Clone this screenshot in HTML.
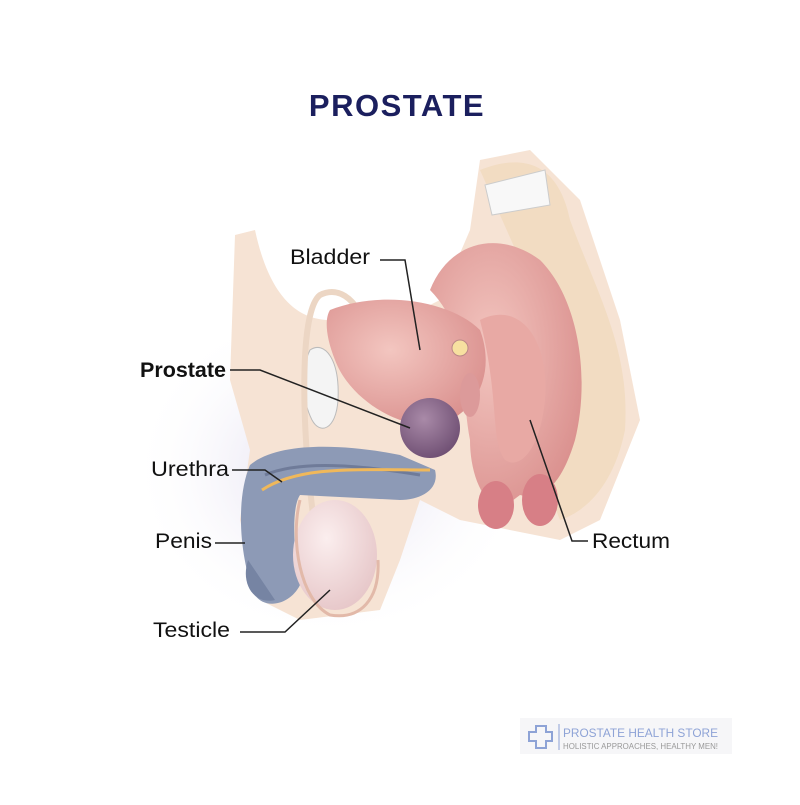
<!DOCTYPE html>
<html><head><meta charset="utf-8"><style>
body{margin:0;width:800px;height:800px;background:#fff;overflow:hidden;font-family:"Liberation Sans",sans-serif}
</style></head><body>
<svg width="800" height="800" viewBox="0 0 800 800" xmlns="http://www.w3.org/2000/svg">
<defs>
<radialGradient id="glow" cx="50%" cy="50%" r="50%">
<stop offset="0" stop-color="#d8d2ea" stop-opacity="0.9"/>
<stop offset="1" stop-color="#ffffff" stop-opacity="0"/>
</radialGradient>
<radialGradient id="pink" cx="40%" cy="40%" r="70%">
<stop offset="0" stop-color="#f3c6c0"/><stop offset="1" stop-color="#d98e8c"/>
</radialGradient>
<radialGradient id="pros" cx="40%" cy="35%" r="70%">
<stop offset="0" stop-color="#a98aa8"/><stop offset="1" stop-color="#6e4e72"/>
</radialGradient>
<radialGradient id="test" cx="40%" cy="35%" r="70%">
<stop offset="0" stop-color="#fbeeee"/><stop offset="1" stop-color="#e6c6c8"/>
</radialGradient>
</defs>
<text x="397" y="116" text-anchor="middle" font-family="Liberation Sans" font-weight="bold" font-size="31" letter-spacing="1.5" fill="#1b1f5e">PROSTATE</text>
<ellipse cx="330" cy="470" rx="200" ry="170" fill="url(#glow)"/>
<path d="M235 235 L255 230 C270 300 300 320 330 320 L380 330 L440 300 L470 230 L480 160 L530 150 L580 200 L620 320 L640 420 L600 520 L560 540 L460 520 L420 500 L400 560 L380 610 L300 620 L260 600 L240 520 L250 450 L230 380 Z" fill="#f6e3d4"/>
<path d="M480 170 C530 150 560 170 570 220 C600 300 630 350 625 430 C615 480 590 510 560 520 L540 470 C560 420 560 330 520 260 Z" fill="#f2dcc2"/>
<path d="M485 185 L545 170 L550 205 L492 215 Z" fill="#f8f8f8" stroke="#ccc"/>
<path d="M430 290 C450 240 500 230 540 260 C580 300 590 380 575 440 C560 490 540 500 520 495 L500 510 C480 500 470 470 470 440 C460 390 470 330 430 290 Z" fill="url(#pink)"/>
<path d="M480 320 C520 300 550 340 545 400 C540 450 520 470 505 460 C490 440 500 400 480 320 Z" fill="#e8a9a4"/>
<ellipse cx="496" cy="505" rx="18" ry="24" fill="#d77f86"/>
<ellipse cx="540" cy="500" rx="18" ry="26" fill="#d77f86"/>
<path d="M310 350 C325 340 340 360 338 400 C336 430 320 435 312 420 C302 400 300 370 310 350 Z" fill="#f4f4f4" stroke="#bbb"/>
<path d="M315 530 C300 420 300 310 320 295 C340 285 360 300 370 340" fill="none" stroke="#ecd6c4" stroke-width="6"/>
<path d="M330 310 C380 290 450 300 480 330 C495 370 480 410 440 425 C400 430 350 400 335 360 C325 335 325 318 330 310 Z" fill="url(#pink)"/>
<circle cx="460" cy="348" r="8" fill="#f7e0a0" stroke="#b88"/>
<ellipse cx="470" cy="395" rx="10" ry="22" fill="#dc9a9a"/>
<circle cx="430" cy="428" r="30" fill="url(#pros)"/>
<path d="M250 465 C280 440 350 445 400 455 L435 470 C440 490 420 500 400 500 L300 495 C290 510 295 560 300 585 C290 605 265 610 255 595 C240 560 235 500 250 465 Z" fill="#8d9ab6"/>
<path d="M265 475 C300 460 360 465 420 475" fill="none" stroke="#6f7b99" stroke-width="3"/>
<path d="M262 490 C300 465 360 470 430 470" fill="none" stroke="#f0b85a" stroke-width="3"/>
<path d="M248 560 C240 585 255 605 275 600" fill="#7684a3"/>
<ellipse cx="335" cy="555" rx="42" ry="55" fill="url(#test)"/>
<path d="M300 500 C290 540 300 600 330 615 C360 620 380 600 378 560" fill="none" stroke="#e2b9a9" stroke-width="3"/>
<g font-family="Liberation Sans" font-size="21" fill="#111">
<text x="290" y="264" textLength="80" lengthAdjust="spacingAndGlyphs">Bladder</text>
<text x="140" y="377" font-weight="bold" textLength="86" lengthAdjust="spacingAndGlyphs">Prostate</text>
<text x="151" y="476" textLength="78" lengthAdjust="spacingAndGlyphs">Urethra</text>
<text x="155" y="548" textLength="57" lengthAdjust="spacingAndGlyphs">Penis</text>
<text x="153" y="637" textLength="77" lengthAdjust="spacingAndGlyphs">Testicle</text>
<text x="592" y="548" textLength="78" lengthAdjust="spacingAndGlyphs">Rectum</text>
</g>
<g fill="none" stroke="#222" stroke-width="1.5">
<path d="M380 260 L405 260 L420 350"/>
<path d="M230 370 L260 370 L410 428"/>
<path d="M232 470 L265 470 L282 482"/>
<path d="M215 543 L245 543"/>
<path d="M240 632 L285 632 L330 590"/>
<path d="M588 541 L572 541 L530 420"/>
</g>
<rect x="520" y="718" width="212" height="36" fill="#f6f6f8"/>
<path d="M536 726 h10 v6 h6 v9 h-6 v7 h-10 v-7 h-7 v-9 h7 z" fill="none" stroke="#8ea3d6" stroke-width="2"/>
<line x1="559" y1="724" x2="559" y2="750" stroke="#8ea3d6"/>
<text x="563" y="737" font-family="Liberation Sans" font-size="12" textLength="155" lengthAdjust="spacingAndGlyphs" fill="#8ea3d6">PROSTATE HEALTH STORE</text>
<text x="563" y="749" font-family="Liberation Sans" font-size="8" textLength="155" lengthAdjust="spacingAndGlyphs" fill="#999">HOLISTIC APPROACHES, HEALTHY MEN!</text>
</svg>
</body></html>
